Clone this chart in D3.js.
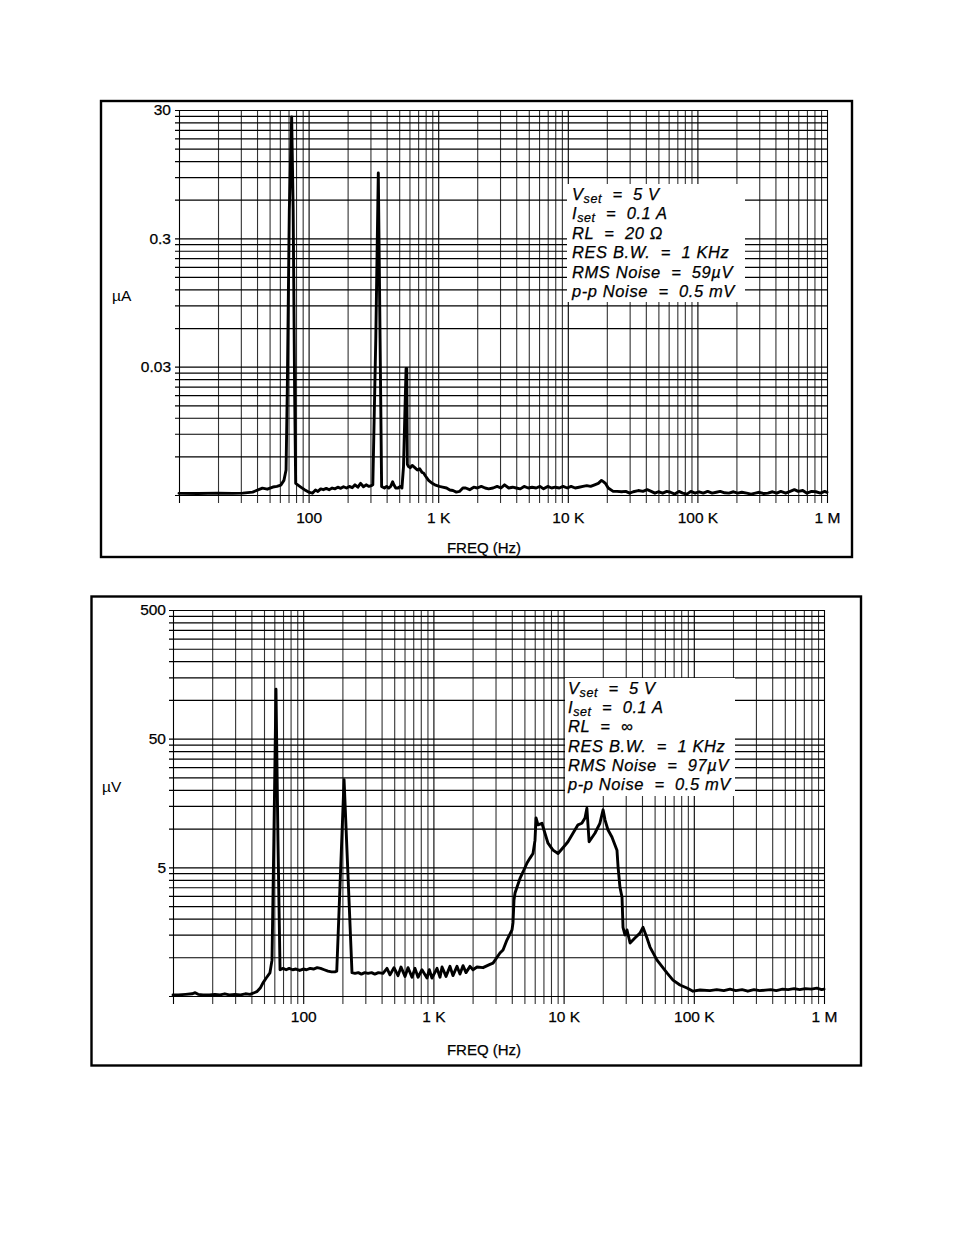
<!DOCTYPE html>
<html><head><meta charset="utf-8">
<script src="https://cdn.jsdelivr.net/npm/d3@7"></script>
<style>
body{margin:0;background:#fff}
svg{display:block}
text{font-family:"Liberation Sans",Arial,Helvetica,sans-serif}
</style>
</head><body>
<svg id="c" width="954" height="1235"></svg>
<script>
// ---------------- DATA ----------------
const xTickValues = [100, 1000, 10000, 100000, 1000000];
const xTickLabels = ["100", "1 K", "10 K", "100 K", "1 M"];
const xTitle = "FREQ (Hz)";

// top chart (current noise) – log paper of 3 decades; printed labels as on the original
const topYDomain = [0.003, 3];
const topYTickValues = [3, 0.3, 0.03];
const topYTickLabels = ["30", "0.3", "0.03"];
const topYUnit = "µA";
const topNotes = [["V","set","  =  5 V"],["I","set","  =  0.1 A"],["RL  =  20 Ω"],["RES B.W.  =  1 KHz"],["RMS Noise  =  59µV"],["p-p Noise  =  0.5 mV"]];
const topSpectrum = [[10,0.00309],[14,0.00308],[20,0.0031],[26,0.00309],[31,0.0031],[37,0.00316],[44,0.00339],[48,0.00333],[53,0.00346],[57,0.0035],[61,0.00358],[64.5,0.0039],[67,0.0047],[68.5,0.02],[71,0.5],[74,2.65],[76,0.5],[78,0.02],[79.5,0.0037],[87,0.00346],[93,0.0033],[100,0.00316],[107,0.0031],[113,0.00328],[118,0.0032],[124,0.00335],[130,0.0033],[137,0.00338],[144,0.0033],[152,0.0034],[160,0.00335],[168,0.00345],[177,0.00338],[186,0.00348],[196,0.0034],[206,0.0035],[217,0.00342],[228,0.0036],[240,0.00345],[252,0.0037],[265,0.00348],[278,0.0036],[292,0.0035],[305,0.00355],[313,0.0036],[330,0.05],[345,0.97],[356,0.05],[366,0.0035],[375,0.00345],[385,0.0034],[400,0.0035],[415,0.0034],[430,0.0035],[445,0.0038],[455,0.0036],[470,0.0034],[490,0.0034],[510,0.0035],[525,0.0034],[540,0.005],[552,0.012],[565,0.029],[572,0.029],[578,0.0052],[590,0.005],[610,0.0049],[630,0.0051],[660,0.0049],[690,0.0047],[720,0.0048],[750,0.0045],[771,0.00445],[800,0.0042],[843,0.0039],[900,0.0037],[955,0.00358],[1020,0.0035],[1080,0.00346],[1160,0.0034],[1230,0.00328],[1300,0.00325],[1380,0.00316],[1460,0.0032],[1550,0.0034],[1630,0.0034],[1750,0.0033],[1880,0.00345],[2000,0.0034],[2150,0.0035],[2300,0.0034],[2450,0.00335],[2650,0.0034],[2850,0.0035],[3050,0.0034],[3250,0.0036],[3500,0.0034],[3750,0.00345],[4000,0.0034],[4300,0.00335],[4600,0.0035],[4950,0.0034],[5300,0.00345],[5700,0.0034],[6100,0.0035],[6500,0.00335],[7000,0.0035],[7500,0.0034],[8000,0.00345],[8600,0.0034],[9200,0.0035],[9900,0.0034],[10600,0.0035],[11400,0.0034],[12200,0.00345],[13100,0.0035],[14000,0.00355],[15000,0.0035],[16100,0.0036],[17200,0.0037],[18200,0.0039],[18900,0.0038],[19500,0.0037],[20500,0.0034],[22400,0.0032],[24000,0.0032],[26000,0.00318],[28000,0.0032],[30000,0.0031],[32000,0.00318],[35000,0.00325],[38000,0.0032],[41000,0.0033],[44000,0.0032],[47000,0.0031],[50000,0.00318],[54000,0.0031],[58000,0.0032],[62000,0.00315],[67000,0.00305],[72000,0.0032],[77000,0.0031],[83000,0.00305],[89000,0.0032],[96000,0.0031],[103000,0.00318],[111000,0.0031],[120000,0.0032],[130000,0.0031],[140000,0.00315],[150000,0.0032],[162000,0.00312],[175000,0.0031],[190000,0.00318],[205000,0.0031],[220000,0.00315],[240000,0.0031],[260000,0.00305],[280000,0.0031],[300000,0.00315],[325000,0.00308],[350000,0.0031],[380000,0.00318],[410000,0.0031],[440000,0.0032],[480000,0.0031],[520000,0.0032],[560000,0.0033],[600000,0.0032],[650000,0.00325],[700000,0.0031],[760000,0.0032],[820000,0.00318],[890000,0.0031],[960000,0.0032],[1000000,0.00315]];

// bottom chart (voltage noise)
const botYDomain = [0.5, 500];
const botYTickValues = [500, 50, 5];
const botYTickLabels = ["500", "50", "5"];
const botYUnit = "µV";
const botNotes = [["V","set","  =  5 V"],["I","set","  =  0.1 A"],["RL  =  ∞"],["RES B.W.  =  1 KHz"],["RMS Noise  =  97µV"],["p-p Noise  =  0.5 mV"]];
const botSpectrum = [[10,0.51],[11,0.51],[12.5,0.515],[14,0.52],[14.8,0.53],[15.6,0.515],[17,0.51],[19,0.51],[21,0.515],[23,0.51],[25,0.52],[27,0.51],[30,0.515],[33,0.51],[36,0.52],[39,0.515],[42,0.53],[44,0.54],[47,0.58],[49,0.63],[52,0.69],[55.5,0.756],[57.6,0.95],[59.5,8],[61.8,121],[64,8],[66.4,0.8],[70,0.82],[74,0.8],[78,0.82],[83,0.8],[88,0.81],[94,0.79],[100,0.81],[106,0.8],[113,0.82],[120,0.81],[128,0.83],[136,0.82],[145,0.8],[155,0.78],[165,0.77],[175,0.77],[181,0.78],[206,24],[237,0.76],[250,0.75],[265,0.76],[280,0.74],[297,0.76],[315,0.75],[335,0.76],[355,0.74],[378,0.76],[410,0.75],[440,0.82],[464,0.73],[498,0.83],[535,0.72],[564,0.84],[605,0.71],[638,0.83],[685,0.7],[722,0.82],[762,0.7],[817,0.8],[893,0.69],[930,0.8],[975,0.69],[1066,0.82],[1124,0.7],[1165,0.84],[1250,0.71],[1341,0.85],[1413,0.72],[1517,0.85],[1600,0.74],[1688,0.86],[1780,0.76],[1911,0.85],[2014,0.8],[2161,0.84],[2404,0.83],[2720,0.88],[2870,0.9],[3245,1.08],[3426,1.14],[3670,1.36],[4015,1.63],[4085,1.85],[4160,2.78],[4235,3.16],[4385,3.5],[4625,4.1],[4880,4.6],[5235,5.4],[5520,5.9],[5820,6.4],[6030,8.1],[6140,12.1],[6360,10.7],[6820,11.0],[7190,9.2],[7590,7.7],[8290,6.8],[9060,6.4],[9890,7.1],[10800,7.9],[11800,9.2],[12900,10.7],[13800,11.0],[14600,12.1],[15100,14.4],[15700,7.9],[17400,9.2],[19000,11.0],[20100,14.0],[20800,11.7],[21900,9.8],[23500,8.6],[25700,6.8],[26200,5.05],[27100,3.5],[28100,2.93],[28600,1.71],[29600,1.49],[30700,1.63],[32400,1.29],[35300,1.41],[38600,1.54],[40700,1.71],[43700,1.41],[46100,1.2],[52200,0.95],[62200,0.756],[69200,0.665],[78300,0.609],[88700,0.577],[98600,0.545],[111700,0.557],[133000,0.55],[150000,0.56],[170000,0.55],[190000,0.565],[210000,0.55],[235000,0.56],[260000,0.545],[290000,0.56],[320000,0.55],[355000,0.555],[390000,0.56],[430000,0.55],[480000,0.565],[530000,0.56],[590000,0.57],[650000,0.56],[720000,0.57],[800000,0.565],[880000,0.575],[960000,0.56],[1000000,0.565]];

// ---------------- DRAW ----------------
const svg = d3.select("#c");
const FONT = '"Liberation Sans",Arial,sans-serif';

function logLines(lo, hi) {
  const out = [];
  let dec = lo;
  while (dec < hi * 0.999) {
    for (let k = 1; k <= 9; k++) out.push(dec * k);
    dec *= 10;
  }
  out.push(hi);
  return out;
}

function panel(cfg) {
  const g = svg.append("g");
  g.append("rect").attr("x", cfg.frame[0]).attr("y", cfg.frame[1])
    .attr("width", cfg.frame[2] - cfg.frame[0]).attr("height", cfg.frame[3] - cfg.frame[1])
    .attr("fill", "none").attr("stroke", "#000").attr("stroke-width", 2.4);

  const x = d3.scaleLog().domain([10, 1e6]).range([cfg.left, cfg.right]);
  const y = d3.scaleLog().domain(cfg.yDomain).range([cfg.bottom, cfg.top]);

  // vertical grid (log paper)
  const vg = g.append("g").attr("transform", `translate(0,${cfg.bottom + 8})`)
    .call(d3.axisBottom(x).tickValues(logLines(10, 1e6)).tickSize(-(cfg.bottom + 8 - cfg.top)).tickFormat(""));
  vg.select(".domain").remove();
  vg.selectAll(".tick line").attr("stroke", (d) => (Math.abs(Math.log10(d) - Math.round(Math.log10(d))) < 1e-6 ? "#000" : "#333")).attr("stroke-width", 1.1);

  // horizontal grid
  const hg = g.append("g").attr("transform", `translate(${cfg.left - 4},0)`)
    .call(d3.axisLeft(y).tickValues(logLines(cfg.yDomain[0], cfg.yDomain[1])).tickSize(-(cfg.right - cfg.left + 5)).tickFormat(""));
  hg.select(".domain").remove();
  hg.selectAll(".tick line").attr("stroke", "#000").attr("stroke-width", 1.2);

  // notes box
  g.append("rect").attr("x", cfg.box[0]).attr("y", cfg.box[1])
    .attr("width", cfg.box[2] - cfg.box[0]).attr("height", cfg.box[3] - cfg.box[1]).attr("fill", "#fff");
  cfg.notes.forEach((n, i) => {
    const t = g.append("text").attr("x", cfg.noteX).attr("y", cfg.noteY + i * cfg.noteStep)
      .attr("font-size", 16.5).attr("font-style", "italic").attr("fill", "#000")
      .attr("letter-spacing", 0.6).attr("stroke", "#000").attr("stroke-width", 0.25)
      .style("white-space", "pre");
    if (n.length === 3) {
      t.append("tspan").text(n[0]);
      t.append("tspan").attr("font-size", 12.5).attr("dy", 3).text(n[1]);
      t.append("tspan").attr("dy", -3).text(n[2]);
    } else {
      t.text(n[0]);
    }
  });

  // trace
  g.append("path").datum(cfg.data)
    .attr("d", d3.line().x((d) => x(d[0])).y((d) => y(d[1])))
    .attr("fill", "none").attr("stroke", "#000").attr("stroke-width", 2.9)
    .attr("stroke-linejoin", "round").attr("stroke-linecap", "round");

  // x tick labels
  const xa = g.append("g").attr("transform", `translate(0,${cfg.bottom})`)
    .call(d3.axisBottom(x).tickValues(xTickValues).tickSize(0).tickPadding(cfg.xPad).tickFormat((d, i) => xTickLabels[i]));
  xa.select(".domain").remove();
  xa.selectAll("text").attr("font-size", 15.5).attr("font-family", FONT).attr("fill", "#000")
    .attr("stroke", "#000").attr("stroke-width", 0.25).style("white-space", "pre");

  // y tick labels
  const ya = g.append("g").attr("transform", `translate(${cfg.left},0)`)
    .call(d3.axisLeft(y).tickValues(cfg.yTicks).tickSize(0).tickPadding(cfg.yPad).tickFormat((d, i) => cfg.yLabels[i]));
  ya.select(".domain").remove();
  ya.selectAll("text").attr("font-size", 15.5).attr("font-family", FONT).attr("fill", "#000")
    .attr("stroke", "#000").attr("stroke-width", 0.25);

  // unit label and axis title
  g.append("text").attr("x", cfg.unitX).attr("y", cfg.unitY).attr("font-size", 15.5).text(cfg.unit);
  g.append("text").attr("x", cfg.titleX).attr("y", cfg.titleY).attr("font-size", 15)
    .attr("stroke", "#000").attr("stroke-width", 0.25)
    .attr("text-anchor", "middle").text(xTitle);
}

panel({
  frame: [101, 101, 852, 557],
  left: 179, right: 827, top: 110, bottom: 495,
  yDomain: topYDomain, yTicks: topYTickValues, yLabels: topYTickLabels,
  data: topSpectrum, notes: topNotes,
  box: [567, 184, 745, 302], noteX: 572, noteY: 200, noteStep: 19.4,
  xPad: 17, yPad: 8, unit: topYUnit, unitX: 112, unitY: 301,
  titleX: 484, titleY: 553
});

panel({
  frame: [91.5, 596.5, 861, 1065.5],
  left: 173, right: 824, top: 610, bottom: 996,
  yDomain: botYDomain, yTicks: botYTickValues, yLabels: botYTickLabels,
  data: botSpectrum, notes: botNotes,
  box: [565, 678, 735, 796], noteX: 568, noteY: 694, noteStep: 19.2,
  xPad: 15, yPad: 7, unit: botYUnit, unitX: 102, unitY: 792,
  titleX: 484, titleY: 1055
});
</script>
</body></html>
